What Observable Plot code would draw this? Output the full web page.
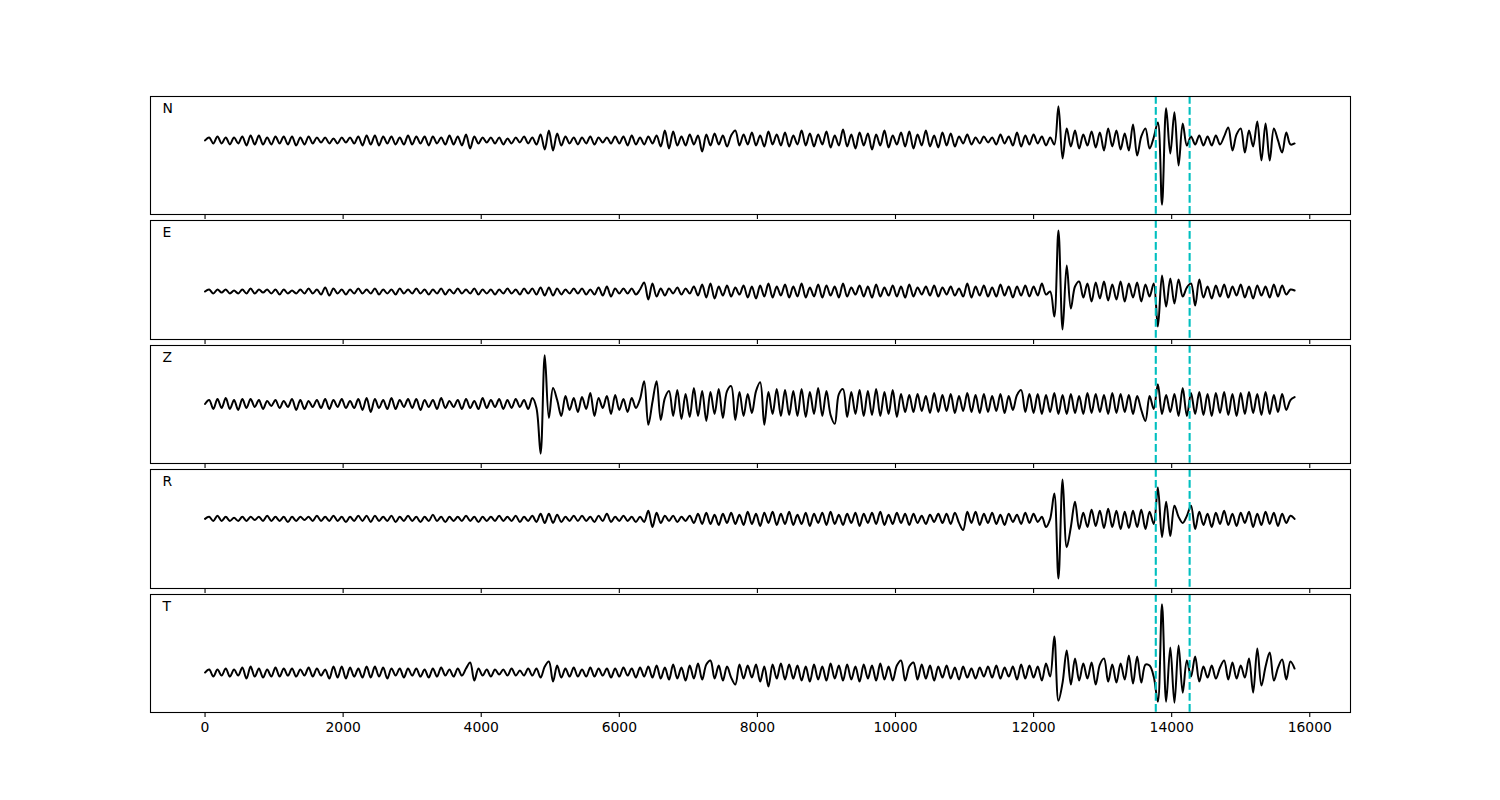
<!DOCTYPE html>
<html>
<head>
<meta charset="utf-8">
<script src="https://cdn.jsdelivr.net/npm/d3@7"></script>
<script src="https://cdn.jsdelivr.net/npm/@observablehq/plot@0.6"></script>
<style>
  html, body { margin: 0; padding: 0; background: #fff; }
  #fig { position: relative; width: 1500px; height: 800px; background: #fff; font-family: "DejaVu Sans", sans-serif; }
</style>
</head>
<body>
<div id="fig"></div>
<script>
const sampleStep = 60;
const xTicks = [0, 2000, 4000, 6000, 8000, 10000, 12000, 14000, 16000];
const picks = [13770, 14260];
const channels = ["N", "E", "Z", "R", "T"];

const N_amp = [
0, 3, -3, 4, -3, 3, -4, 3, -3, 4,
-5, 5, -4, 5, -4, 3, -4, 4, -3, 4,
-4, 4, -5, 3, -4, 4, -3, 3, -2, 3,
-3, 2, -3, 3, -2, 3, -3, 4, -5, 5,
-4, 5, -5, 4, -3, 4, -4, 3, -4, 5,
-4, 4, -3, 4, -5, 4, -3, 3, -4, 5,
-4, 4, -5, 6, -8, 4, -3, 3, -2, 3,
-3, 3, -4, 2, -3, 3, -2, 4, -3, 3,
-4, 6, -9, 10, -10, 7, -5, 4, -3, 3,
-4, 3, -3, 4, -4, 3, -2, 3, -3, 4,
-3, 4, -5, 5, -4, 3, -4, 4, -3, 5,
-6, 10, -8, 9, -5, 4, -5, 6, -4, 5,
-11, 6, -5, 7, -4, 5, -6, 5, 10, -5,
6, -4, 8, -5, 5, -6, 9, -4, 6, -5,
8, -6, 5, -4, 10, -5, 7, -6, 6, -4,
9, -7, 5, -5, 11, -6, 6, -8, 8, -5,
7, -9, 6, -5, 10, -7, 5, -4, 8, -6,
9, -8, 6, -5, 10, -6, 5, -7, 8, -5,
7, -6, 4, -3, 6, -4, 3, -3, 4, -2,
3, -4, 6, -3, 4, -5, 8, -6, 5, -4,
6, -3, 4, -5, 3, -4, 34, -18, 12, -6,
10, -8, 6, -5, 9, -7, 8, -10, 12, -6,
10, -9, 7, -10, 16, -15, 4, 12, -8, 3,
18, -64, 32, -13, 28, -25, 17, -5, 4, -4,
5, -5, 4, -5, 5, -4, 4, 13, -10, 6,
12, -12, 10, -6, 19, -20, 17, -20, 12, 0,
-12, 8, -4, -3
];

const E_amp = [
0, 2, -2, 2, -1, 2, -2, 1, -2, 2,
-2, 3, -2, 2, -1, 2, -2, 2, -3, 2,
-2, 1, -2, 2, -2, 3, -2, 2, -3, 4,
-4, 3, -2, 2, -3, 2, -2, 3, -2, 2,
-2, 3, -3, 2, -2, 2, -3, 3, -2, 2,
-2, 3, -2, 2, -3, 2, -2, 3, -3, 2,
-2, 3, -2, 2, -2, 3, -3, 2, -2, 2,
-3, 2, -2, 3, -2, 2, -3, 3, -2, 3,
-3, 4, -4, 4, -4, 3, -3, 2, -2, 3,
-2, 3, -3, 2, -3, 4, -4, 5, -5, 3,
-2, 3, -2, 3, -3, 2, 9, -8, 8, -5,
3, -4, 3, -2, 4, -3, 3, -2, 5, -4,
7, -6, 8, -7, 5, -4, 6, -5, 4, -3,
6, -6, 5, -7, 6, -5, 8, -6, 5, -4,
7, -6, 5, -5, 8, -6, 4, -5, 7, -6,
6, -4, 5, -6, 8, -5, 4, -3, 6, -5,
5, -6, 7, -5, 4, -4, 6, -5, 5, -6,
7, -5, 4, -3, 5, -4, 6, -5, 4, -3,
5, -4, 3, -5, 8, -6, 5, -4, 6, -5,
4, -5, 7, -4, 5, -6, 5, -4, 6, -5,
5, -4, 8, -3, 0, -25, 61, -38, 26, -17,
5, 10, -6, 8, -10, 9, -7, 10, -9, 7,
-8, 10, -10, 8, -6, 9, -10, 7, -5, 8,
-35, 16, -15, 13, -12, 12, -5, 4, 8, -14,
12, -6, 5, -7, 6, -5, 7, -6, 5, -4,
7, -6, 5, -7, 6, -4, 5, -6, 7, -5,
6, -3, 2, 1
];

const Z_amp = [
0, 4, -5, 5, -4, 6, -5, 4, -6, 5,
-4, 5, -3, 4, -5, 3, -2, 4, -4, 3,
-3, 5, -6, 4, -5, 3, -3, 4, -4, 5,
-5, 4, -3, 5, -4, 3, -4, 5, -6, 6,
-8, 5, -4, 4, -5, 6, -5, 4, -3, 5,
-4, 5, -6, 4, -3, 4, -5, 6, -4, 3,
-3, 4, -5, 5, -4, 3, -5, 6, -4, 4,
-3, 5, -5, 4, -4, 5, -3, 4, -5, 6,
-4, -50, 49, -14, 16, 4, -12, 8, -6, 6,
-8, 7, -5, 11, -12, 6, -4, 8, -10, 9,
-6, 5, -8, 6, -4, 5, 23, -21, 2, 23,
-16, 6, 13, -12, 14, -15, 10, -13, 16, -12,
13, -17, 12, -10, 15, -14, 13, 18, -16, 12,
-12, 10, -9, 13, 22, -21, 12, -10, 15, -12,
14, -11, 13, -12, 15, -13, 12, -10, 16, -12,
13, -11, -20, 10, 15, -13, 12, -10, 14, -12,
13, -11, 15, -12, 12, -10, 14, -13, 10, -8,
9, -8, 10, -7, 8, -9, 11, -8, 9, -7,
10, -9, 8, -7, 11, -8, 9, -9, 10, -8,
8, -7, 10, -9, 8, -6, 9, 14, -8, 10,
-9, 10, -10, 9, -8, 11, -10, 9, -10, 10,
-9, 8, -10, 11, -9, 10, -8, 9, -10, 11,
-9, 10, -8, 9, -10, 8, -6, -17, 8, -5,
20, -10, 9, -8, 10, -12, 16, -12, 11, -10,
12, -11, 10, -12, 11, -9, 12, -11, 10, -12,
11, -10, 12, -9, 10, -11, 12, -10, 9, -8,
10, -6, 4, 7
];

const R_amp = [
0, 2, -2, 3, -2, 2, -2, 1, -2, 2,
-2, 2, -1, 2, -2, 3, -2, 2, -2, 2,
-3, 2, -2, 2, -1, 2, -2, 3, -2, 2,
-2, 3, -2, 2, -3, 2, -2, 3, -2, 3,
-3, 3, -2, 2, -2, 3, -3, 2, -2, 3,
-2, 2, -3, 2, -2, 4, -2, 2, -3, 2,
-2, 2, -2, 3, -2, 2, -3, 2, -2, 2,
-2, 3, -2, 2, -2, 3, -3, 2, -2, 3,
-3, 5, -4, 5, -4, 4, -3, 2, -2, 3,
-2, 3, -2, 2, -3, 3, -2, 5, -3, 2,
-2, 3, -2, 2, -3, 2, -3, 8, -8, 6,
-4, 3, -2, 3, -3, 2, -2, 3, -4, 5,
-5, 6, -5, 4, -6, 5, -4, 6, -5, 4,
-6, 7, -5, 5, -7, 6, -4, 7, -6, 5,
-5, 7, -6, 4, -5, 6, -7, 5, -4, 6,
-6, 7, -5, 4, -6, 5, -4, 6, -7, 5,
-4, 6, -5, 7, -6, 4, -5, 6, -4, 5,
-6, 5, -4, 3, -5, 4, -3, 5, -4, 5,
-5, 6, -4, -11, 7, -4, 7, -6, 5, -4,
6, -5, 4, -6, 5, -3, 4, -5, 6, -4,
5, -3, 2, -8, 0, 25, -59, 39, -28, -8,
17, -10, 6, -8, 9, -7, 8, -9, 10, -8,
8, -10, 7, -9, 8, -8, 9, -10, 7, -5,
31, -18, 17, -17, 13, 2, -4, 3, 13, -10,
7, -6, 5, -8, 6, -5, 8, -6, 5, -7,
6, -4, 7, -8, 5, -6, 7, -5, 6, -7,
5, -4, 3, 0
];

const T_amp = [
0, 3, -4, 3, -3, 4, -4, 3, -3, 5,
-6, 6, -4, 4, -5, 3, -4, 5, -4, 4,
-3, 4, -4, 3, -3, 5, -4, 4, -3, 3,
-6, 6, -5, 6, -6, 5, -4, 4, -5, 6,
-5, 6, -4, 5, -6, 4, -3, 4, -5, 4,
-3, 4, -4, 3, -5, 4, -4, 5, -3, 3,
-4, 4, -3, 4, 10, -8, 4, -3, 3, -4,
3, -2, 3, -3, 4, -3, 2, -3, 4, -3,
4, -5, 6, 11, -9, 7, -5, 4, -4, 5,
-4, 3, -4, 5, -4, 4, -3, 4, -5, 4,
-4, 5, -3, 4, -5, 5, -4, 6, -5, 7,
-6, 5, -7, 8, -6, 5, -8, 7, -6, 9,
-7, 8, 12, -6, 7, -8, 6, -5, -12, 8,
-6, 7, -5, 8, -9, 6, -14, 8, -6, 9,
-7, 8, -6, 7, -8, 6, -9, 8, -7, 6,
-8, 9, -6, 7, -8, 8, -7, 6, -9, 8,
-6, 7, -8, 9, -7, 6, -8, 7, 12, -8,
6, 10, -7, 8, -6, 7, -8, 6, -5, 7,
-6, 5, -7, 6, -5, 4, -6, 5, -4, 6,
-5, 7, -6, 5, -4, 6, -7, 8, -6, 7,
-5, 6, -8, 9, -4, 36, -28, -10, 22, -12,
14, -8, 9, -6, 10, -12, 8, 14, -9, 8,
-10, 9, -7, 17, -11, 16, -10, 8, 7, -4,
-29, 68, -29, 25, -30, 27, -20, 12, -4, 16,
-9, 6, -5, 7, -6, 5, 12, -7, 10, -6,
7, -5, 14, -20, 24, -13, 6, 20, -8, 5,
13, -7, 11, 4
];

const traces = [N_amp, E_amp, Z_amp, R_amp, T_amp];

// ---- layout ----
const panelTops = [96, 220, 345, 469, 594];
const panelHeights = [118, 119, 118, 119, 118];
const xDomain = [-790, 16590];
const fig = document.getElementById("fig");

traces.forEach((amp, k) => {
  const data = amp.map((a, i) => ({t: i * sampleStep, a}));
  const [mn, mx] = d3.extent(amp);
  const pad = (mx - mn) * 0.1;
  const last = k === traces.length - 1;
  const mTop = 1;
  const mBottom = last ? 40 : 6;
  const chart = Plot.plot({
    width: 1500,
    height: panelHeights[k] + mTop + mBottom,
    marginLeft: 150,
    marginRight: 150,
    marginTop: mTop,
    marginBottom: mBottom,
    style: {fontFamily: "DejaVu Sans", fontSize: "13.9px", color: "black", background: "transparent", overflow: "visible"},
    x: {domain: xDomain, label: null},
    y: {domain: [mn - pad, mx + pad], axis: null},
    marks: [
      Plot.line(data, {x: "t", y: "a", stroke: "black", strokeWidth: 2, strokeLinejoin: "round", curve: "catmull-rom"}),
      Plot.ruleX(picks, {stroke: "#00bfbf", strokeWidth: 2.1, strokeDasharray: "7.7,3.3"}),
      Plot.frame({stroke: "black", strokeWidth: 1.1}),
      Plot.text([channels[k]], {frameAnchor: "top-left", dx: 12, dy: 12, text: d => d, textAnchor: "start", lineAnchor: "middle", fontSize: 13.9, fill: "black"}),
      Plot.axisX({
        ticks: xTicks,
        tickSize: 5,
        tickPadding: 5,
        stroke: "black",
        strokeWidth: 1.1,
        fill: "black",
        fontSize: 13.9,
        label: null,
        tickFormat: last ? (d => String(d)) : (() => "")
      })
    ]
  });
  chart.style.position = "absolute";
  chart.style.left = "0px";
  chart.style.top = (panelTops[k] - mTop) + "px";
  fig.appendChild(chart);
});
</script>
</body>
</html>
